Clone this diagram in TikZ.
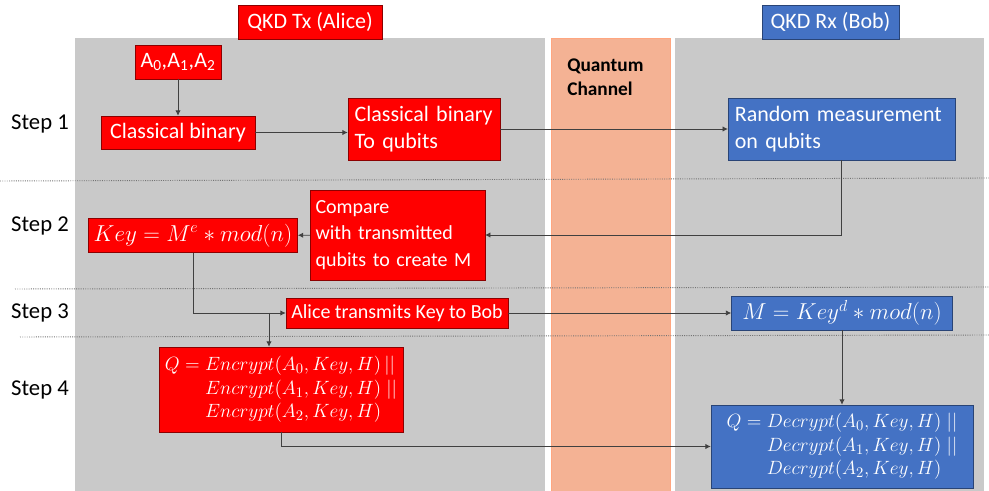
\documentclass[tikz,border=0pt]{standalone}
\usepackage{fontspec}
\setmainfont{Carlito}
\usepackage{amsmath}
\usetikzlibrary{arrows.meta}
\setlength{\jot}{0pt}
\definecolor{alicered}{HTML}{FF0000}
\definecolor{bobblue}{HTML}{4472C4}
\definecolor{panelgray}{HTML}{C9C9C9}
\definecolor{channel}{HTML}{F4B294}
\definecolor{flowgray}{HTML}{404040}
\tikzset{
  redbox/.style={draw=red!55!black, fill=alicered, text=white, inner xsep=4pt, inner ysep=2pt},
  bluebox/.style={draw=bobblue!60!black, fill=bobblue, text=white, inner xsep=4pt, inner ysep=2pt},
  flow/.style={-{Latex[length=4pt,width=4pt]}, draw=flowgray, line width=.6pt},
  divider/.style={densely dotted, draw=black!55, line width=.7pt},
}
\newcommand{\boxfont}{\fontsize{16.5}{20}\selectfont}
\newcommand{\smallboxfont}{\fontsize{15}{20}\selectfont}
\newcommand{\eqfont}{\fontsize{15}{17.5}\selectfont}

\begin{document}
\begin{tikzpicture}[x=.75pt,y=-.75pt,font=\boxfont]
    \useasboundingbox (0,0) rectangle (989,491);
    % lanes
    \fill[panelgray] (75,38) rectangle (545,491);
    \filldraw[fill=channel, draw=orange!60!red!50] (551,38) rectangle (670,491);
    \fill[panelgray] (675,38) rectangle (984,491);
    % rows
    \draw[divider] (0,181) -- (989,178);
    \draw[divider] (15,289) -- (989,287);
    \draw[divider] (20,337) -- (989,335);
    \foreach \y/\n in {124/1,226/2,313/3,390/4}
        \node[font=\fontsize{17}{20}\selectfont] (step\n) at (40,\y) {Step \n};
    \node[anchor=north west, align=left, inner sep=0pt, font=\fontsize{14.5}{17.5}\selectfont\bfseries] (qch) at (567,59) {Quantum\\Channel};
    % titles
    \node[redbox, minimum width=108pt, minimum height=25.5pt] (tx) at (310,22) {QKD Tx (Alice)};
    \node[bluebox, minimum width=102.75pt, minimum height=25.5pt] (rx) at (830.5,22) {QKD Rx (Bob)};
    % step 1
    \node[redbox, minimum width=64.5pt, minimum height=25.5pt] (abox) at (178,62) {A\textsubscript{0},A\textsubscript{1},A\textsubscript{2}};
    \node[redbox, minimum width=115.5pt, minimum height=24.75pt] (cbin) at (178,132.5) {Classical binary};
    \node[redbox, minimum height=46.5pt, inner xsep=5pt, text width=104pt, align=left] (tobits) at (424,129) {Classical binary\\To qubits};
    \node[bluebox, minimum height=46.5pt, inner xsep=5pt, text width=160pt, align=left] (rmeas) at (841.5,129) {Random measurement\\on qubits};
    % step 2
    \node[redbox, minimum width=154.5pt, minimum height=25.5pt] (key) at (193,235.5) {$Key = M^e * mod(n)$};
    \node[redbox, minimum height=67.5pt, text width=123pt, align=left, font=\smallboxfont] (cmp) at (397.5,235) {Compare\\with transmitted\\qubits to create M};
    % step 3
    \node[redbox, minimum width=166.5pt, minimum height=22.5pt, inner xsep=2pt, font=\smallboxfont] (atx) at (397,313) {Alice transmits Key to Bob};
    \node[bluebox, minimum width=165.75pt, minimum height=25.5pt] (mkey) at (842,313) {$M = Key^d * mod(n)$};
    % step 4
    \node[redbox, minimum width=183pt, minimum height=63.75pt, font=\eqfont] (enc) at (281,389.5) {$\begin{aligned} Q ={}& Encrypt(A_0,Key,H)\,||\\ &Encrypt(A_1,Key,H)\;||\\ &Encrypt(A_2,Key,H)\end{aligned}$};
    \node[bluebox, minimum width=196.5pt, minimum height=62.25pt, font=\eqfont] (dec) at (842,446.5) {$\begin{aligned} Q ={}& Decrypt(A_0,Key,H)\;||\\ &Decrypt(A_1,Key,H)\;||\\ &Decrypt(A_2,Key,H)\end{aligned}$};
    % connectors
    \draw[flow] (abox) -- (cbin);
    \draw[flow] (cbin.east) -- (cbin.east -| tobits.west);
    \draw[flow] (tobits.east) -- (rmeas.west);
    \draw[flow] (rmeas.south) |- (cmp.east);
    \draw[flow] (cmp) -- (key);
    \draw[flow] (key.south) |- (atx.west);
    \coordinate (split) at (269,313);
    \draw[flow] (split) -- (split |- enc.north);
    \draw[flow] (atx) -- (mkey);
    \draw[flow] (mkey) -- (dec);
    \draw[flow] (enc.south) |- (dec.west);
\end{tikzpicture}
\end{document}
